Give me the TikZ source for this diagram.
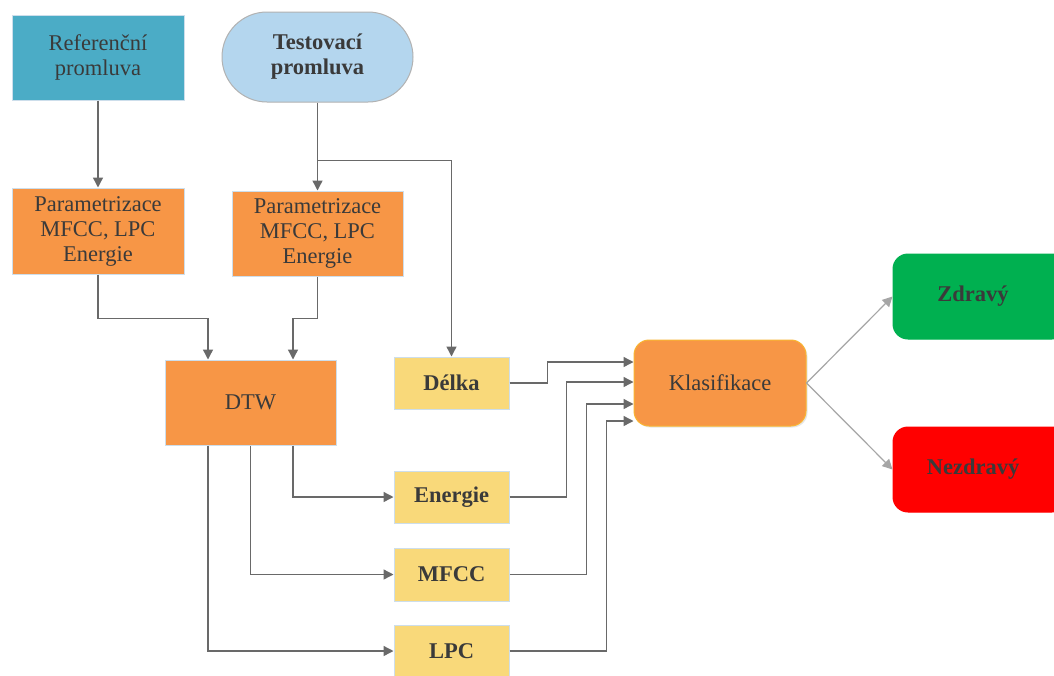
\documentclass[tikz,border=0pt]{standalone}
\usepackage{fontspec}
\setmainfont{Liberation Serif}
\usetikzlibrary{arrows.meta,shadows}
\definecolor{refc}{RGB}{75,172,198}
\definecolor{testc}{RGB}{180,214,238}
\definecolor{orng}{RGB}{247,150,70}
\definecolor{yell}{RGB}{249,217,122}
\definecolor{grn}{RGB}{0,176,80}
\definecolor{rd}{RGB}{255,0,0}
\definecolor{txt}{RGB}{58,58,58}
\definecolor{arrc}{RGB}{105,105,105}
\definecolor{bord}{RGB}{205,222,235}
\tikzset{
  box/.style={draw=bord, line width=1pt, align=center, text=txt, inner sep=0pt,
    font=\fontsize{22.5}{25}\selectfont},
  bbox/.style={box, font=\fontsize{22.5}{25}\selectfont\bfseries},
  arr/.style={draw=arrc, line width=1.4pt, -{Triangle[length=10pt,width=10pt]}},
  garr/.style={draw=arrc!70, line width=1.3pt, -{Triangle[length=10pt,width=10pt]}, arrc}
}
\begin{document}
\begin{tikzpicture}[x=1pt,y=-1pt]
\useasboundingbox (0,0) rectangle (1054,675);
\clip (0,0) rectangle (1054,675);
\fill[white] (0,0) rectangle (1054,675);
\node[box, fill=refc, minimum width=172pt, minimum height=85pt] (ref) at (98,57.5) {Referenční\\promluva};
\node[bbox, fill=testc, draw=gray!60, minimum width=191pt, minimum height=90pt, rounded corners=45pt] (test) at (317.5,57) {Testovací\\promluva};
\node[box, fill=orng, minimum width=172pt, minimum height=86pt] (p1) at (98,231) {Parametrizace\\MFCC, LPC\\Energie};
\node[box, fill=orng, minimum width=171pt, minimum height=85pt] (p2) at (317.5,233.5) {Parametrizace\\MFCC, LPC\\Energie};
\node[box, fill=orng, minimum width=171pt, minimum height=85pt] (dtw) at (250.5,402.5) {DTW};
\node[bbox, fill=yell, minimum width=115pt, minimum height=52pt] (delka) at (451.5,383) {Délka};
\node[bbox, fill=yell, minimum width=115pt, minimum height=52pt] (energie) at (451.5,497) {Energie};
\node[bbox, fill=yell, minimum width=115pt, minimum height=53pt] (mfcc) at (451.5,574.5) {MFCC};
\node[bbox, fill=yell, minimum width=115pt, minimum height=52pt] (lpc) at (451.5,651) {LPC};
\node[box, fill=orng, draw=orng!70!yellow, minimum width=172pt, minimum height=86pt, rounded corners=15pt,
  drop shadow={opacity=0.2, shadow xshift=1.5pt, shadow yshift=-1.5pt}] (klas) at (720,383) {Klasifikace};
\node[bbox, fill=grn, draw=grn, minimum width=174pt, minimum height=85pt, rounded corners=15pt] (zdr) at (980,296.5) {\hspace*{-14pt}Zdravý};
\node[bbox, fill=rd, draw=rd, minimum width=174pt, minimum height=85pt, rounded corners=15pt] (nez) at (980,469.5) {\hspace*{-14pt}Nezdravý};

\draw[arr] (ref.south) -- (p1.north);
\draw[arr] (test.south) -- (p2.north);
\draw[arr] (test.south) ++(0,-58pt) -| (delka.north);
\draw[arr] (p1.south) -- ++(0,44) -| ([xshift=-42.5pt]dtw.north);
\draw[arr] (p2.south) -- ++(0,42) -| ([xshift=42.5pt]dtw.north);
\draw[arr] ([xshift=42.5pt]dtw.south) |- (energie.west);
\draw[arr] (dtw.south) |- (mfcc.west);
\draw[arr] ([xshift=-42.5pt]dtw.south) |- (lpc.west);
\draw[arr] (delka.east) -- ++(38,0) |- ([yshift=21pt]klas.west);
\draw[arr] (energie.east) -- ++(57,0) |- ([yshift=1pt]klas.west);
\draw[arr] (mfcc.east) -- ++(77,0) |- ([yshift=-21pt]klas.west);
\draw[arr] (lpc.east) -- ++(97,0) |- ([yshift=-38pt]klas.west);
\draw[garr, draw=gray!70, line width=1.2pt] (klas.east) -- (zdr.west);
\draw[garr, draw=gray!70, line width=1.2pt] (klas.east) -- (nez.west);
\end{tikzpicture}
\end{document}
